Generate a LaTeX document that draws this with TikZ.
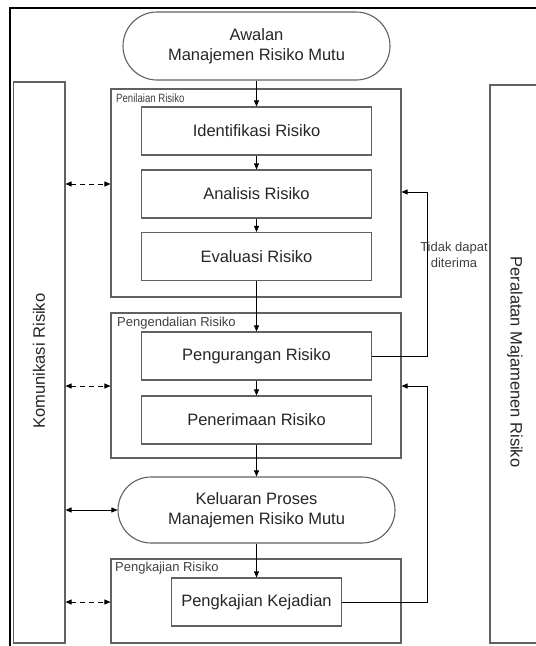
\documentclass[tikz,border=0pt]{standalone}
\usepackage{fontspec}
\setmainfont{Liberation Sans}
\usetikzlibrary{arrows.meta,shapes.misc}
\tikzset{
  box/.style={draw=black!62, line width=1.1pt, inner sep=0pt},
  proc/.style={box, minimum width=230pt, minimum height=48pt, text=black!85, font=\fontsize{16.5}{20}\selectfont},
  grp/.style={box},
  oval/.style={draw=black!62, line width=1.1pt, rounded rectangle, inner sep=0pt, align=center, text=black!85, font=\fontsize{16.5}{20}\selectfont},
  glabel/.style={anchor=west, inner sep=0pt, font=\fontsize{13}{15}\selectfont, text=black!75},
  flow/.style={draw=black, line width=0.8pt, -{Triangle[length=6pt,width=5pt]}},
  comm/.style={draw=black, line width=0.8pt, {Triangle[length=6pt,width=5pt]}-{Triangle[length=6pt,width=5pt]}},
  dsh/.style={dash pattern=on 5pt off 4pt},
}
\begin{document}
\begin{tikzpicture}[x=1pt,y=-1pt]
\clip (0,0) rectangle (536,646);
\fill[white] (0,0) rectangle (536,646);
% outer frame
\draw[line width=1.6pt, black] (10,8) rectangle (570,670);
% side boxes
\node[box, minimum width=51.5pt, minimum height=561pt] (kom) at (39.25,362.5) {};
\node[rotate=90, text=black!85, font=\fontsize{16.5}{20}\selectfont] (komt) at (39,361) {Komunikasi Risiko};
\node[box, minimum width=80pt, minimum height=558pt] (per) at (530,364) {};
\node[rotate=-90, text=black!85, font=\fontsize{16.5}{20}\selectfont] (pert) at (515,362) {Peralatan Majamenen Risiko};
% group boxes
\node[grp, minimum width=290pt, minimum height=208pt] (pen) at (256,193) {};
\node[grp, minimum width=290pt, minimum height=145pt] (peng) at (256,385.5) {};
\node[grp, minimum width=290pt, minimum height=84pt] (kaj) at (256,601) {};
\node[glabel] (penl) at (116,98) {\fontsize{12}{14}\selectfont\scalebox{0.8}[1]{Penilaian Risiko}};
\node[glabel] (pengl) at (117,323) {Pengendalian Risiko};
\node[glabel] (kajl) at (115,568) {Pengkajian Risiko};
% ovals
\node[oval, minimum width=267pt, minimum height=68pt] (aw) at (256.5,46) {Awalan\\Manajemen Risiko Mutu};
\node[oval, minimum width=277pt, minimum height=66pt] (kel) at (256.5,510) {Keluaran Proses\\Manajemen Risiko Mutu};
% process boxes
\node[proc] (id) at (256.5,131) {Identifikasi Risiko};
\node[proc] (an) at (256.5,194) {Analisis Risiko};
\node[proc] (ev) at (256.5,256.5) {Evaluasi Risiko};
\node[proc] (pu) at (256.5,356) {Pengurangan Risiko};
\node[proc] (pt) at (256.5,420) {Penerimaan Risiko};
\node[proc, minimum width=170pt] (kk) at (256.5,602) {Pengkajian Kejadian};
% main flow
\draw[flow] (aw.south) -- (id.north);
\draw[flow] (id.south) -- (an.north);
\draw[flow] (an.south) -- (ev.north);
\draw[flow] (ev.south) -- (pu.north);
\draw[flow] (pu.south) -- (pt.north);
\draw[flow] (pt.south) -- (kel.north);
\draw[flow] (kel.south) -- (kk.north);
% feedback loops
\coordinate (fb1) at (427,192);
\coordinate (fb2) at (427,386);
\draw[flow] (pu.east) -| (fb1) -- (pen.east |- fb1);
\draw[flow] (kk.east) -| (fb2) -- (peng.east |- fb2);
\node[align=center, inner sep=0pt, font=\fontsize{13}{16}\selectfont, text=black!75] (td) at (454,255) {Tidak dapat\\diterima};
% communication arrows
\coordinate (c1) at (0,184);
\coordinate (c2) at (0,386);
\coordinate (c3) at (0,510);
\coordinate (c4) at (0,602);
\draw[comm, dsh] (kom.east |- c1) -- (pen.west |- c1);
\draw[comm, dsh] (kom.east |- c2) -- (peng.west |- c2);
\draw[comm] (kom.east |- c3) -- (kel.west |- c3);
\draw[comm, dsh] (kom.east |- c4) -- (kaj.west |- c4);
\end{tikzpicture}
\end{document}
